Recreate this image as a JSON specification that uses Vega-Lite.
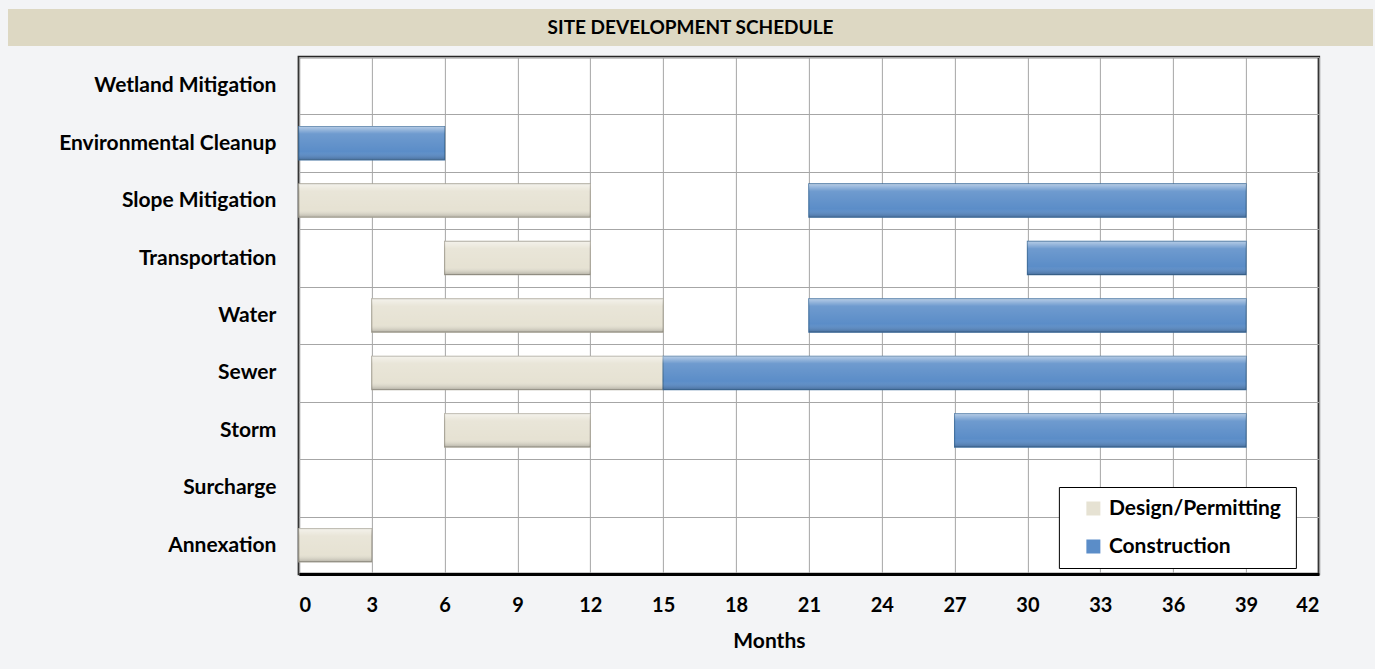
{
  "$schema": "https://vega.github.io/schema/vega-lite/v6.json",
  "background": "#f3f4f6",
  "padding": {"left": 7, "top": 9, "right": -235, "bottom": 18},
  "spacing": -2,
  "center": true,
  "resolve": {"legend": {"color": "independent", "stroke": "independent"}, "scale": {"color": "independent"}},
  "config": {
    "font": "Lato"
  },
  "vconcat": [
    {
      "width": 1365,
      "height": 37,
      "title": {"text": " ", "orient": "right", "offset": 228, "fontSize": 10},
      "view": {"fill": "#ddd8c3", "stroke": null},
      "data": {"values": [{"title": "SITE DEVELOPMENT SCHEDULE"}]},
      "mark": {"type": "text", "font": "Lato", "fontWeight": "bold", "fontSize": 19, "color": "#000000", "baseline": "middle"},
      "encoding": {"text": {"field": "title", "type": "nominal"}}
    },
    {
      "width": 1020,
      "height": 517,
      "view": {"fill": "#ffffff", "stroke": "#262626", "strokeWidth": 2.5},
      "data": {
        "values": [
          {"task": "Environmental Cleanup", "phase": "Construction", "start": 0, "end": 6},
          {"task": "Slope Mitigation", "phase": "Design/Permitting", "start": 0, "end": 12},
          {"task": "Slope Mitigation", "phase": "Construction", "start": 21, "end": 39},
          {"task": "Transportation", "phase": "Design/Permitting", "start": 6, "end": 12},
          {"task": "Transportation", "phase": "Construction", "start": 30, "end": 39},
          {"task": "Water", "phase": "Design/Permitting", "start": 3, "end": 15},
          {"task": "Water", "phase": "Construction", "start": 21, "end": 39},
          {"task": "Sewer", "phase": "Design/Permitting", "start": 3, "end": 15},
          {"task": "Sewer", "phase": "Construction", "start": 15, "end": 39},
          {"task": "Storm", "phase": "Design/Permitting", "start": 6, "end": 12},
          {"task": "Storm", "phase": "Construction", "start": 27, "end": 39},
          {"task": "Annexation", "phase": "Design/Permitting", "start": 0, "end": 3}
        ]
      },
      "encoding": {
        "y": {
          "field": "task",
          "type": "nominal",
          "scale": {
            "domain": ["Wetland Mitigation", "Environmental Cleanup", "Slope Mitigation", "Transportation", "Water", "Sewer", "Storm", "Surcharge", "Annexation"],
            "paddingInner": 0,
            "paddingOuter": 0
          },
          "axis": {
            "title": " ",
            "titleX": -290,
            "titleY": 0,
            "titleAngle": 0,
            "titleAlign": "left",
            "titleBaseline": "top",
            "titleFontSize": 8,
            "labelFont": "Lato",
            "labelFontWeight": "bold",
            "labelFontSize": 21,
            "labelColor": "#000000",
            "labelPadding": 23,
            "labelLimit": 400,
            "ticks": false,
            "tickSize": 0,
            "domain": false,
            "grid": true,
            "tickBand": "extent",
            "gridColor": "#a6a6a6",
            "gridWidth": 1
          }
        },
        "x": {
          "field": "start",
          "type": "quantitative",
          "scale": {"domain": [0, 42], "nice": false, "zero": true},
          "axis": {
            "values": [0, 3, 6, 9, 12, 15, 18, 21, 24, 27, 30, 33, 36, 39, 42],
            "title": "Months",
            "titleFont": "Lato",
            "titleFontWeight": "bold",
            "titleFontSize": 21,
            "titleColor": "#000000",
            "titleX": 470,
            "titleY": 67,
            "titleBaseline": "middle",
            "labelFont": "Lato",
            "labelFontWeight": "bold",
            "labelFontSize": 20,
            "labelColor": "#000000",
            "labelPadding": 21,
            "ticks": false,
            "tickSize": 0,
            "domain": true,
            "domainColor": "#000000",
            "domainWidth": 3,
            "grid": true,
            "gridColor": "#a6a6a6",
            "gridWidth": 1
          }
        },
        "x2": {"field": "end"}
      },
      "layer": [
        {
          "mark": {"type": "bar", "height": {"band": 0.58}, "strokeWidth": 1.2},
          "encoding": {
            "color": {
              "field": "phase",
              "type": "nominal",
              "scale": {"domain": ["Design/Permitting", "Construction"], "range": ["#e6e2d3", "#5b8dc8"]},
              "legend": {
                "title": " ",
                "titleOrient": "right",
                "titlePadding": 4,
                "titleFontSize": 8,
                "orient": "none",
                "legendX": 760,
                "legendY": 430,
                "direction": "vertical",
                "fillColor": "#ffffff",
                "strokeColor": "#000000",
                "padding": 11,
                "symbolOffset": 13,
                "symbolType": "square",
                "symbolSize": 196,
                "symbolStrokeWidth": 0,
                "labelFont": "Lato",
                "labelFontWeight": "bold",
                "labelFontSize": 21,
                "labelColor": "#000000",
                "labelOffset": 5,
                "labelLimit": 400,
                "rowPadding": 16
              }
            },
            "stroke": {
              "field": "phase",
              "type": "nominal",
              "scale": {"domain": ["Design/Permitting", "Construction"], "range": ["#aaa699", "#41709f"]},
              "legend": null
            }
          }
        },
        {
          "mark": {
            "type": "bar",
            "height": {"band": 0.58},
            "color": {
              "gradient": "linear",
              "x1": 0, "y1": 0, "x2": 0, "y2": 1,
              "stops": [
                {"offset": 0, "color": "rgba(255,255,255,0.55)"},
                {"offset": 0.22, "color": "rgba(255,255,255,0.12)"},
                {"offset": 0.75, "color": "rgba(255,255,255,0)"},
                {"offset": 1, "color": "rgba(0,0,0,0.22)"}
              ]
            }
          }
        }
      ]
    }
  ]
}
